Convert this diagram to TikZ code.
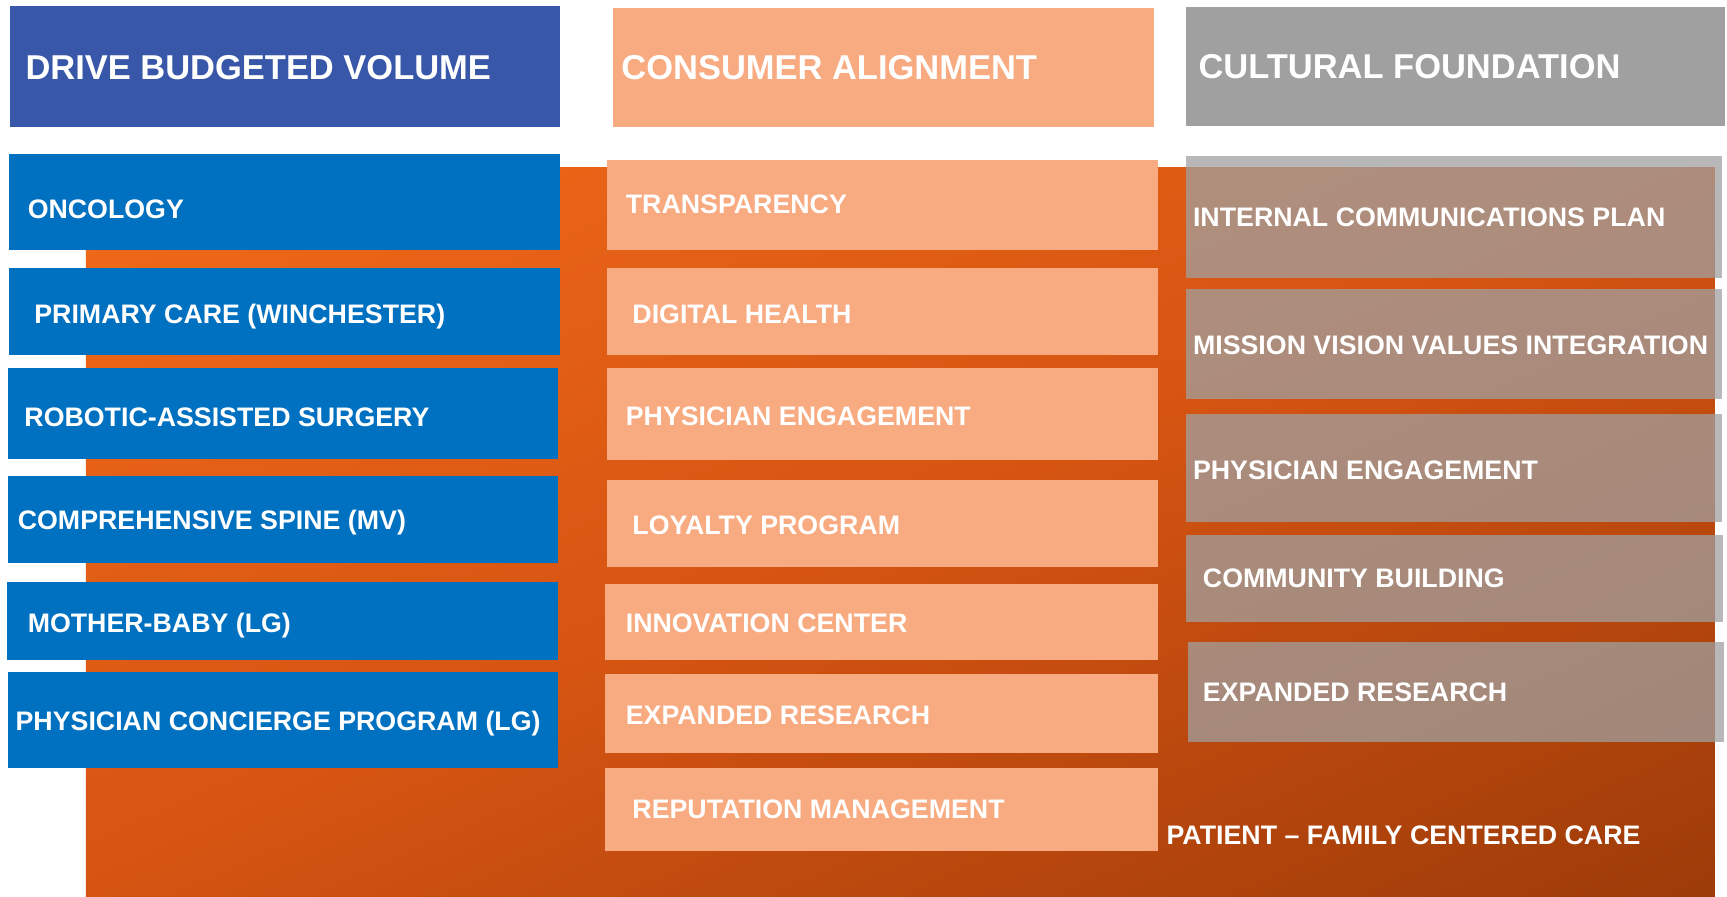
\documentclass[tikz,border=0pt]{standalone}
\usepackage{fontspec}
\setmainfont{Liberation Sans}

\definecolor{headblue}{RGB}{57,87,168}
\definecolor{boxblue}{RGB}{0,112,192}
\definecolor{peach}{RGB}{248,170,128}
\definecolor{headgray}{RGB}{160,160,160}
\definecolor{orangelight}{RGB}{244,108,26}
\definecolor{orangemid}{RGB}{213,84,18}
\definecolor{orangedark}{RGB}{152,57,8}

% light in the top left corner, dark in the bottom right one
\pgfdeclareverticalshading{careglow}{100bp}{color(0bp)=(orangedark);
  color(14bp)=(orangedark); color(50bp)=(orangemid);
  color(86bp)=(orangelight); color(100bp)=(orangelight)}

\tikzset{
  head/.style={anchor=base west, inner sep=0pt, text=white,
    font=\bfseries\fontsize{31.3}{36}\selectfont},
  item/.style={anchor=base west, inner sep=0pt, text=white,
    font=\bfseries\fontsize{24.3}{28}\selectfont},
  glass/.style={fill=headgray, fill opacity=0.75}
}

\begin{document}
\begin{tikzpicture}[x=1pt, y=-1pt]
% three columns of goals standing on the care backdrop

\useasboundingbox (0,0) rectangle (1568,814);

\shade[shading=careglow, shading angle=24] (78,152) rectangle (1557,814);
\node[item] (care) at (1059,767) {PATIENT -- FAMILY CENTERED CARE};

% volume column
\fill[headblue] (9,5) rectangle (508,115);
\node[head] (vol) at (23,72) {DRIVE BUDGETED VOLUME};
\fill[boxblue] (8,140) rectangle (508,227);
\node[item] (onc) at (25,198) {ONCOLOGY};
\fill[boxblue] (8,243) rectangle (508,322);
\node[item] (prim) at (31,294) {PRIMARY CARE (WINCHESTER)};
\fill[boxblue] (7,334) rectangle (507,417);
\node[item] (robot) at (22,387) {ROBOTIC-ASSISTED SURGERY};
\fill[boxblue] (7,432) rectangle (507,511);
\node[item] (spine) at (16,481) {COMPREHENSIVE SPINE (MV)};
\fill[boxblue] (6,528) rectangle (507,599);
\node[item] (baby) at (25,574) {MOTHER-BABY (LG)};
\fill[boxblue] (7,610) rectangle (507,697);
\node[item] (conc) at (14,663) {PHYSICIAN CONCIERGE PROGRAM (LG)};

% consumer column
\fill[peach] (557,7) rectangle (1048,115);
\node[head] (cons) at (564,72) {CONSUMER ALIGNMENT};
\fill[peach] (551,145) rectangle (1051,227);
\node[item] (transp) at (568,194) {TRANSPARENCY};
\fill[peach] (551,243) rectangle (1051,322);
\node[item] (digital) at (574,294) {DIGITAL HEALTH};
\fill[peach] (551,334) rectangle (1051,418);
\node[item] (physa) at (568,386) {PHYSICIAN ENGAGEMENT};
\fill[peach] (551,436) rectangle (1051,515);
\node[item] (loyal) at (574,485) {LOYALTY PROGRAM};
\fill[peach] (549,530) rectangle (1051,599);
\node[item] (innov) at (568,574) {INNOVATION CENTER};
\fill[peach] (549,612) rectangle (1051,684);
\node[item] (resa) at (568,658) {EXPANDED RESEARCH};
\fill[peach] (549,697) rectangle (1051,773);
\node[item] (reput) at (574,743) {REPUTATION MANAGEMENT};

% culture column
\fill[headgray] (1077,6) rectangle (1566,114);
\node[head] (cult) at (1088,71) {CULTURAL FOUNDATION};
\fill[glass] (1077,142) rectangle (1563,252);
\node[item] (comms) at (1083,206) {INTERNAL COMMUNICATIONS PLAN};
\fill[glass] (1077,262) rectangle (1563,362);
\node[item] (mission) at (1083,322) {MISSION VISION VALUES INTEGRATION};
\fill[glass] (1077,376) rectangle (1563,474);
\node[item] (physb) at (1083,435) {PHYSICIAN ENGAGEMENT};
\fill[glass] (1077,486) rectangle (1564,565);
\node[item] (commun) at (1092,533) {COMMUNITY BUILDING};
\fill[glass] (1079,583) rectangle (1565,674);
\node[item] (resb) at (1092,637) {EXPANDED RESEARCH};

\end{tikzpicture}
\end{document}
